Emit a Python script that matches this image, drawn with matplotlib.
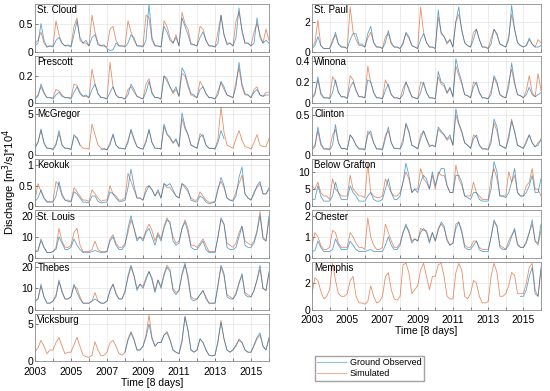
import numpy as np
import matplotlib
matplotlib.use("Agg")
import matplotlib.pyplot as plt

nan = np.nan

# sampling: six values per year (Jan, Mar, May, Jul, Sep, Nov), 2003 .. 2016
t = 2003 + np.arange(79) / 6.0

# ---------------- left column ----------------
st_cloud_obs = [.10, .15, .50, .20, .08, .10, .08, .20, .25, .15, .10, .12,
                .08, .30, .55, .25, .15, .20, .10, .25, .30, .12, .10, .12,
                .05, .02, .03, .15, .10, .10, .08, .15, .30, .25, .10, .10,
                .08, .20, .85, .25, .10, .10, .08, .45, .35, .20, .15, .25,
                .10, .60, .45, .30, .12, .12, .10, .25, .35, .20, .10, .10,
                .08, .15, .65, .30, .12, .15, .10, .25, .78, .35, .15, .15,
                .10, .15, .60, .25, .15, .20, .15]
st_cloud_sim = [.15, .20, .35, .15, .08, .10, .10, .55, .30, .15, .10, .10,
                .10, .45, .60, .20, .15, .15, .10, .65, .35, .15, .10, .10,
                .08, .40, .45, .20, .10, .10, .10, .55, .35, .20, .10, .10,
                .10, .65, .60, .20, .10, .10, .08, .55, .45, .25, .15, .30,
                .10, .70, .50, .40, .15, .12, .10, .45, .40, .20, .10, .10,
                .08, .35, .65, .30, .15, .15, .10, .55, .70, .40, .15, .15,
                .10, .35, .50, .30, .15, .40, .20]

prescott_obs = [.03, .05, .14, .08, .04, .04, .03, .06, .08, .05, .04, .04,
                .03, .08, .12, .07, .05, .06, .04, .10, .14, .07, .04, .04,
                .03, .08, .12, .06, .04, .04, .03, .06, .14, .10, .05, .04,
                .03, .08, .16, .07, .04, .04, .03, .20, .18, .12, .08, .12,
                .05, .26, .22, .14, .07, .06, .04, .10, .12, .07, .04, .04,
                .03, .06, .16, .12, .06, .05, .04, .12, .30, .14, .07, .06,
                .04, .08, .10, .06, .05, .06, .06]
prescott_sim = [.04, .06, .12, .07, .04, .04, .04, .10, .09, .06, .04, .04,
                .04, .14, .13, .08, .05, .05, .04, .25, .14, .07, .04, .04,
                .03, .30, .12, .06, .04, .04, .03, .10, .12, .08, .05, .04,
                .03, .14, .18, .08, .04, .04, .03, .20, .16, .12, .07, .10,
                .05, .22, .20, .12, .06, .05, .04, .16, .12, .07, .04, .04,
                .03, .09, .15, .10, .06, .05, .04, .16, .26, .12, .06, .06,
                .04, .10, .12, .06, .05, .08, .08]

mcgregor_obs = [0.8, 1.5, 3.2, 1.5, 0.8, 0.8, 0.6, 1.2, 3.0, 1.2, 0.8, 0.8,
                0.6, 2.5, 2.0, 1.2, nan, nan, nan, nan, nan, nan, 0.6, 0.7,
                0.6, 1.2, 2.6, 1.2, 0.8, 0.8, 0.7, 1.5, 3.2, 2.0, 1.0, 0.8,
                0.7, 1.5, 3.2, 1.5, 0.8, 0.8, 0.7, 3.8, 2.6, 2.2, 1.5, 2.0,
                1.0, 5.2, 3.5, 2.5, 1.2, 1.0, 0.8, 2.2, 2.5, 1.2, 0.8, 0.8,
                0.7, 1.5, 3.0, 2.0, nan, nan, nan, nan, nan, nan, nan, nan,
                nan, nan, nan, nan, nan, nan, nan]
mcgregor_sim = [0.9, 1.6, 3.0, 1.4, 0.8, 0.8, 0.7, 1.4, 2.6, 1.2, 0.8, 0.8,
                0.7, 2.2, 2.2, 1.2, 0.8, 0.8, 0.7, 3.8, 2.5, 1.2, 0.8, 0.8,
                0.6, 1.5, 2.4, 1.2, 0.8, 0.8, 0.7, 1.8, 3.0, 1.8, 1.0, 0.8,
                0.7, 1.8, 3.0, 1.5, 0.8, 0.8, 0.7, 3.5, 2.5, 2.0, 1.4, 1.8,
                1.0, 4.5, 3.2, 2.5, 1.2, 1.0, 0.8, 2.6, 2.2, 1.2, 0.8, 0.8,
                0.7, 2.0, 6.0, 2.8, 1.2, 1.0, 0.8, 2.0, 3.0, 1.8, 1.0, 0.9,
                0.7, 1.5, 2.5, 1.2, 1.0, 1.0, 2.0]

keokuk_obs = [.12, .20, .40, .20, .10, .10, .10, .25, .60, .30, .15, .12,
              .10, .35, .30, .20, .10, .10, .08, .25, .25, .12, .08, .10,
              .10, .35, .30, .20, .12, .12, .15, .45, .90, .50, .20, .20,
              .15, .35, .50, .40, .25, .40, .20, .55, .50, .55, .40, .25,
              .20, .55, .50, .40, .15, .12, .10, .25, .20, .10, .06, .08,
              .10, .40, .70, .50, .20, .15, .12, .25, .70, .95, .30, .20,
              .15, .30, .50, .60, .30, .30, .45]
keokuk_sim = [.15, .55, .35, .20, .12, .12, .12, .60, .50, .25, .15, .15,
              .12, .45, .35, .25, .15, .15, .12, .40, .30, .20, .12, .15,
              .15, .50, .30, .25, .15, .15, .20, .80, .60, .40, .20, .20,
              .15, .45, .50, .40, .25, .35, .20, .55, .45, .45, .35, .25,
              .20, .55, .45, .35, .20, .15, .15, .35, .25, .15, .10, .10,
              .12, .45, .60, .45, .20, .15, .15, .35, .55, .75, .30, .20,
              .15, .35, .45, .55, .30, .30, .40]

st_louis_obs = [3, 3, 9, 5, 2.5, 2.5, 3, 4, 10, 7, 4, 4,
                5, 9, 6, 4, 2.5, 2.5, 2.5, 3, 3.5, 3, 2.5, 2.5,
                3, 8, 10, 6, 4, 4, 6, 14, 20, 14, 8, 10,
                8, 12, 14, 10, 6, 11, 8, 14, 18, 17, 8, 6,
                7, 14, 17, 12, 5, 4, 4, 6, 8, 4, 2.5, 2.5,
                2.5, 10, 19, 16, 5, 4, 4, 5, 10, 15, 6, 5,
                5, 7, 12, 20, 9, 8, 20]
st_louis_sim = [3, 4, 8, 5, 2.5, 2.5, 3, 5, 14, 8, 5, 5,
                6, 12, 14, 6, 3, 3, 3, 4, 8, 4, 3, 3,
                3, 9, 11, 7, 5, 5, 7, 12, 18, 14, 9, 10,
                9, 13, 16, 13, 8, 12, 9, 15, 19, 16, 10, 7,
                8, 14, 18, 14, 6, 6, 5, 7, 9, 6, 3, 3,
                3, 10, 18, 16, 7, 6, 5, 7, 12, 15, 8, 7,
                6, 8, 13, 22, 10, 8, 18]

thebes_obs = [4, 5, 12, 6, 3, 3, 4, 6, 14, 8, 5, 5,
              6, 12, 8, 5, 3, 3, 3, 4, 5, 4, 3, 3,
              4, 9, 12, 7, 5, 5, 8, 16, 21, 16, 9, 12,
              10, 14, 18, 14, 8, 14, 10, 16, 20, 18, 9, 7,
              9, 17, 22, 14, 5, 4, 5, 7, 9, 5, 3, 3,
              3, 12, 21, 17, 6, 5, 5, 7, 12, 17, 7, 6,
              6, 9, 14, 21, 10, 9, 18]
thebes_sim = [4, 5, 11, 6, 3, 3, 4, 7, 13, 9, 5, 5,
              6, 11, 10, 6, 3, 3, 3, 4, 8, 4, 3, 3,
              4, 9, 12, 8, 5, 5, 9, 15, 20, 16, 10, 12,
              11, 15, 18, 15, 9, 14, 11, 17, 21, 19, 10, 8,
              9, 16, 21, 16, 6, 5, 5, 7, 9, 6, 3, 3,
              3, 11, 20, 16, 7, 6, 5, 8, 13, 16, 8, 7,
              6, 9, 14, 19, 10, 9, 17]

vicksburg_obs = [nan] * 30 + [
                 1.2, 2.8, 3.8, 2.8, 1.5, 1.5, 2.0, 3.2, 5.0, 3.0, 2.0, 2.5,
                 2.5, 3.5, 3.8, 2.8, 1.5, 1.2, 1.0, 2.8, 6.0, 4.2, 1.5, 1.2,
                 1.5, 3.0, 2.5, 1.5, 0.8, 0.7, 0.8, 2.8, 5.2, 3.0, 1.5, 1.2,
                 1.5, 2.2, 2.8, 2.5, 1.5, 1.2, 1.2, 2.2, 3.2, 3.8, 2.0, 1.5,
                 3.2]
vicksburg_sim = [1.2, 1.8, 2.8, 2.0, 1.0, 1.5, 1.5, 2.5, 3.2, 2.0, 1.0, 1.2,
                 1.2, 2.2, 3.2, 2.0, 0.8, 0.6, 0.5, 0.8, 2.6, 1.5, 0.7, 0.8,
                 1.2, 2.5, 2.8, 2.0, 1.0, 0.8, 1.2, 3.0, 4.0, 3.0, 1.5, 1.5,
                 2.0, 3.5, 6.2, 3.2, 2.0, 2.5, 2.5, 3.5, 4.0, 3.0, 1.5, 1.2,
                 1.0, 2.5, 6.0, 4.0, 1.5, 1.2, 1.5, 3.0, 2.5, 1.5, 0.8, 0.7,
                 0.8, 2.5, 5.5, 3.0, 1.5, 1.2, 1.5, 2.0, 3.0, 2.5, 1.5, 1.2,
                 1.2, 2.0, 3.0, 3.5, 2.0, 1.5, 3.0]

# ---------------- right column ----------------
st_paul_obs = [.2, .4, 1.0, .4, .2, .2, .2, .6, 1.3, .5, .3, .3,
               .2, .8, 1.2, 1.2, .5, .5, .3, 1.2, 1.7, .6, .3, .3,
               .2, .6, 1.4, .6, .3, .3, .2, .5, 1.3, 1.0, .4, .3,
               .2, .8, 1.2, .6, .3, .3, .2, 2.8, 1.2, 1.0, .6, .8,
               .3, 2.0, 3.0, 1.4, .6, .4, .3, .8, 1.5, .8, .3, .3,
               .2, .5, 1.5, 1.2, .5, .4, .3, .8, 3.1, 1.5, .6, .4,
               .3, .4, .9, .5, .3, .3, .4]
st_paul_sim = [.3, .6, 2.1, .4, .2, .2, .2, .8, 1.1, .5, .3, .3,
               .2, 3.0, 1.3, .8, .4, .4, .3, .9, 1.3, .6, .3, .3,
               .2, 1.0, 1.2, .5, .3, .3, .2, .6, 1.2, .9, .4, .3,
               .2, 3.0, 1.3, .6, .3, .3, .2, 2.3, 1.3, 1.0, .5, .8,
               .3, 2.0, 2.5, 1.5, .6, .4, .3, 1.3, 1.5, .8, .3, .3,
               .2, .9, 1.5, 1.1, .5, .4, .3, 1.0, 2.5, 1.5, .6, .4,
               .3, .4, .8, .5, .3, .8, .6]

winona_obs = [.04, .08, .25, .10, .05, .05, .04, .10, .22, .10, .06, .06,
              .04, .15, .20, .12, .06, .06, .05, .22, .20, .10, .05, .05,
              .04, .12, .18, .08, .05, .05, .04, .08, .20, .14, .06, .05,
              .04, .10, .20, .10, .05, .05, .04, .30, .20, .18, .10, .15,
              .06, .42, .30, .20, .08, .07, .05, .15, .20, .10, .05, .05,
              .04, .08, .26, .20, .08, .06, .05, .15, .38, .20, .08, .07,
              .05, .08, .15, .08, .06, .08, .10]
winona_sim = [.05, .10, .22, .08, .05, .05, .05, .25, .20, .10, .06, .06,
              .05, .26, .22, .12, .06, .06, .05, .35, .20, .10, .05, .05,
              .04, .22, .16, .08, .05, .05, .04, .14, .20, .12, .06, .05,
              .04, .20, .18, .10, .05, .05, .04, .25, .18, .16, .09, .14,
              .06, .35, .26, .18, .08, .07, .05, .20, .18, .10, .05, .05,
              .04, .12, .24, .18, .08, .06, .05, .20, .32, .18, .08, .07,
              .05, .12, .26, .10, .06, .28, .12]

clinton_obs = [.06, .10, .35, .15, .07, .07, .06, .12, .38, .15, .08, .08,
               .06, .25, .20, .12, .07, .07, .06, .25, .30, .15, .07, .07,
               .06, .20, .35, .15, .08, .08, .07, .15, .40, .30, .12, .10,
               .07, .20, .30, .20, .10, .12, .10, .35, .30, .25, .20, .25,
               .12, .58, .40, .30, .15, .12, .08, .20, .25, .12, .07, .07,
               .06, .15, .45, .35, .12, .10, .08, .20, .42, .30, .12, .10,
               .08, .15, .25, .15, .10, .12, .20]
clinton_sim = [.08, .12, .30, .12, .08, .08, .07, .25, .32, .15, .08, .08,
               .07, .25, .20, .12, .08, .08, .07, .30, .25, .15, .08, .08,
               .07, .25, .30, .15, .08, .08, .08, .20, .38, .28, .12, .10,
               .08, .25, .30, .20, .12, .12, .10, .32, .28, .25, .18, .22,
               .12, .50, .38, .28, .15, .12, .08, .25, .22, .12, .08, .08,
               .07, .20, .40, .30, .12, .10, .08, .25, .45, .28, .12, .10,
               .08, .18, .25, .15, .10, .15, .18]

grafton_obs = [2, 2, 6, 3, 1.5, 1.5, 1.5, 3, 7, 4, 2, 2,
               2, 6, 4, 3, 1.5, 1.5, 1.5, 3, 4, 2, 1.5, 1.5,
               2, 5, 8, 4, 2, 2, 3, 7, 12.5, 9, 4, 5,
               4, 7, 9, 8, 5, 10, 6, 9, 11, 11, 6, 4,
               4, 9, 9, 7, 3, 2.5, 2, 4, 4, 2, 1.5, 1.5,
               1.5, 5, 13, 10, 3, 3, 2.5, 4, 7, 11, 4, 3,
               3, 4, 6, 9, 4, 4, 8]
grafton_sim = [6, 5, 7, 4, 3, 3, 2, 8, 5, 4, 3, 3,
               3, 9, 5, 4, 3, 3, 2.5, 12.5, 4, 3, 2.5, 2.5,
               3, 8, 6, 4, 3, 3, 4, 7, 10, 8, 4, 5,
               5, 11, 8, 7, 5, 9, 5, 10, 9, 9, 6, 4,
               4, 12, 8, 6, 3, 3, 3, 7, 4, 3, 2, 2,
               2, 8, 11, 8, 3, 3, 3, 10, 7, 9, 4, 3,
               3, 6, 7, 11, 5, 5, 3]

chester_obs = [.3, .35, .8, .5, .3, .3, .3, .4, .9, .6, .4, .4,
               .4, .8, .6, .4, .3, .3, .3, .35, .4, .3, .3, .3,
               .3, .6, 1.0, .6, .4, .4, .6, 1.2, 1.6, 1.2, .7, .9,
               .8, 1.2, 1.4, 1.2, .7, 1.2, .8, 1.3, 1.7, 1.5, .8, .6,
               .7, 1.4, 1.7, 1.2, .5, .4, .4, .6, .8, .4, .3, .3,
               .3, 1.0, 1.8, 1.5, .5, .4, .4, .6, 1.0, 1.4, .6, .5,
               .5, .7, 1.2, 1.8, .8, .7, 1.6]
chester_sim = [.6, 1.2, 1.0, .6, .4, .4, .5, 1.3, 1.2, .7, .5, .5,
               .5, 1.2, 1.0, .7, .5, .5, .4, 1.9, 1.0, .6, .4, .4,
               .5, 1.6, 1.2, .8, .5, .5, .7, 1.2, 1.5, 1.3, .8, .9,
               .8, 1.4, 1.3, 1.3, .8, 1.2, .8, 1.4, 1.6, 1.4, .9, .6,
               .7, 1.6, 1.7, 1.3, .6, .5, .5, .8, .8, .5, .4, .4,
               .4, 1.0, 1.7, 1.5, .6, .5, .4, .8, 1.1, 1.3, .7, .5,
               .5, .8, 1.2, 1.6, .8, .6, 1.3]

memphis_obs = [nan] * 71 + [1.0, 1.0, 1.5, 2.5, 3.2, 1.2, 1.0, 3.2]
memphis_sim = [1.2, 2.4, 2.2, 1.4, .8, 1.0, 1.5, 3.5, 2.2, 1.2, 1.0, 1.0,
               1.2, 2.2, 2.5, 1.0, .5, .5, .4, .6, 1.8, 1.0, .5, .6,
               1.0, 2.5, 2.8, 1.5, .8, .7, 1.0, 3.4, 3.5, 2.8, 1.2, 1.5,
               1.8, 3.0, 3.5, 2.5, 1.5, 2.5, 2.5, 3.4, 3.5, 2.5, 1.0, .8,
               .8, 2.8, 3.5, 3.0, 1.0, .8, 1.2, 2.2, 2.0, 1.0, .5, .5,
               .6, 2.5, 3.5, 2.8, 1.0, 1.0, 1.2, 1.8, 2.8, 2.6, 1.2, 1.2,
               1.2, 2.0, 3.2, 3.5, 1.5, 1.0, 3.0]

left_panels = [
    ("St. Cloud", st_cloud_obs, st_cloud_sim, 0.85, [0, 0.5]),
    ("Prescott", prescott_obs, prescott_sim, 0.35, [0, 0.2]),
    ("McGregor", mcgregor_obs, mcgregor_sim, 5.9, [0, 5]),
    ("Keokuk", keokuk_obs, keokuk_sim, 1.15, [0, 0.5, 1]),
    ("St. Louis", st_louis_obs, st_louis_sim, 22.5, [0, 10, 20]),
    ("Thebes", thebes_obs, thebes_sim, 22.5, [0, 10, 20]),
    ("Vicksburg", vicksburg_obs, vicksburg_sim, 6.4, [0, 5]),
]
right_panels = [
    ("St. Paul", st_paul_obs, st_paul_sim, 3.2, [0, 2]),
    ("Winona", winona_obs, winona_sim, 0.45, [0, 0.2, 0.4]),
    ("Clinton", clinton_obs, clinton_sim, 0.6, [0, 0.5]),
    ("Below Grafton", grafton_obs, grafton_sim, 13.8, [0, 5, 10]),
    ("Chester", chester_obs, chester_sim, 2.25, [0, 1, 2]),
    ("Memphis", memphis_obs, memphis_sim, 3.6, [0, 2]),
]

plt.rcParams["font.family"] = ["Liberation Sans", "DejaVu Sans"]
plt.rcParams["font.size"] = 7

obs_color = "#0072BD"
sim_color = "#D95319"

W, H = 550.0, 391.0
fig = plt.figure(figsize=(5.5, 3.91), dpi=100)


def make_panel(x0, width, row, name, obs, sim, ymax, yticks, bottom):
    top = 4 + 51.6 * row
    h = 47.5
    ax = fig.add_axes([x0 / W, 1 - (top + h) / H, width / W, h / H])
    ax.plot(t, sim, color=sim_color, lw=0.6, alpha=0.65)
    ax.plot(t, obs, color=obs_color, lw=0.6, alpha=0.65)
    ax.set_xlim(2003, 2016)
    ax.set_ylim(0, ymax)
    ax.set_yticks(yticks)
    ax.set_yticklabels([f"{v:g}" for v in yticks])
    ax.set_xticks(range(2003, 2017))
    if bottom:
        ax.set_xticklabels([str(y) if (y - 2003) % 2 == 0 else "" for y in range(2003, 2017)],
                           fontsize=7.5)
        ax.set_xlabel("Time [8 days]", labelpad=1, fontsize=7.5)
    else:
        ax.set_xticklabels([])
    ax.grid(True, color="#e4e4e4", lw=0.5)
    ax.set_axisbelow(True)
    ax.tick_params(direction="in", length=2, width=0.5, color="#555555", pad=1.5)
    ax.tick_params(axis="x", pad=4)
    ax.tick_params(axis="y", labelsize=7.5)
    for s in ax.spines.values():
        s.set_color("#8c8c8c")
        s.set_linewidth(0.6)
    ax.text(0.01, 0.97, name, transform=ax.transAxes, ha="left", va="top", fontsize=7)
    return ax


for i, (name, obs, sim, ymax, yt) in enumerate(left_panels):
    make_panel(35, 234, i, name, obs, sim, ymax, yt, i == len(left_panels) - 1)

for i, (name, obs, sim, ymax, yt) in enumerate(right_panels):
    make_panel(312, 229, i, name, obs, sim, ymax, yt, i == len(right_panels) - 1)

fig.text(10 / W, 1 - 182 / H, "Discharge [m$^3$/s]*10$^4$", rotation=90,
         ha="center", va="center", fontsize=8)

handles = [plt.Line2D([], [], color=obs_color, lw=0.8, alpha=0.45),
           plt.Line2D([], [], color=sim_color, lw=0.8, alpha=0.45)]
fig.legend(handles, ["Ground Observed", "Simulated"], loc="upper left",
           bbox_to_anchor=(310 / W, 1 - 351 / H), fontsize=6.5, frameon=True,
           fancybox=False, edgecolor="#8c8c8c", handlelength=3.2,
           borderpad=0.3, labelspacing=0.2, handletextpad=0.4)

fig.savefig("out.png", dpi=100)
